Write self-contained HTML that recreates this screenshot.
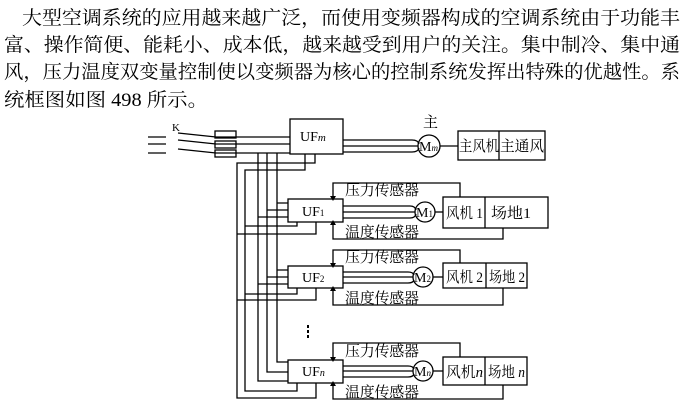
<!DOCTYPE html>
<html><head><meta charset="utf-8"><style>
html,body{margin:0;padding:0;background:#fff;}
svg{display:block;}
text{font-family:"Liberation Serif","Noto Serif CJK SC","Noto Sans CJK SC",serif;fill:#000;}
</style></head><body>
<svg width="686" height="417" viewBox="0 0 686 417" xmlns="http://www.w3.org/2000/svg">
<g font-size="19">
<text x="22" y="24" textLength="658" lengthAdjust="spacingAndGlyphs">大型空调系统的应用越来越广泛，而使用变频器构成的空调系统由于功能丰</text>
<text x="4" y="51" textLength="676" lengthAdjust="spacingAndGlyphs">富、操作简便、能耗小、成本低，越来越受到用户的关注。集中制冷、集中通</text>
<text x="4" y="78" textLength="676" lengthAdjust="spacingAndGlyphs">风，压力温度双变量控制使以变频器为核心的控制系统发挥出特殊的优越性。系</text>
<text x="4" y="106" textLength="204" lengthAdjust="spacingAndGlyphs">统框图如图 498 所示。</text>
</g>
<g stroke="#000" stroke-width="1.3" fill="none">
<path d="M148 137H166 M178 133L216 137H290 M148 144H166 M178 140L216 144H290 M148 153H166 M178 149L216 153H290"/>
<rect x="215" y="131" width="21" height="7"/><rect x="215" y="141" width="21" height="7"/><rect x="215" y="150" width="21" height="7"/>
<rect x="290" y="119" width="53" height="35"/>
<path d="M343 140H412Q418 140 419 144 M343 146H418 M343 152H412Q418 152 419 148"/>
<circle cx="429" cy="146" r="11"/>
<path d="M440 146H458"/>
<rect x="458" y="131" width="87" height="29"/><path d="M499 131V160"/>
<path d="M258 153V381H288 M267 153V372H288 M277 153V362H288"/>
<path d="M315 154V163H237V398H316V383"/>
<path d="M305 154V170H245V391H297V383"/>
<path d="M277 203H288 M267 210H288 M258 217H288 M245 226H297V222 M237 234H316V222"/>
<path d="M277 270H288 M267 277H288 M258 284H288 M245 294H297V288 M237 300H316V288"/>
<rect x="288" y="199" width="55" height="23"/>
<path d="M343 206H410Q415 206 416 210 M343 212H415 M343 218H410Q415 218 416 214"/>
<circle cx="425" cy="212" r="10"/>
<path d="M435 212H443"/>
<rect x="443" y="197" width="105" height="31"/><path d="M485 197V228"/>
<path d="M333 199V183H460V197 M333 222V239H503V228"/>
<rect x="288" y="266" width="55" height="22"/>
<path d="M343 272H408Q413 272 414 275 M343 277H413 M343 283H408Q413 283 414 280"/>
<circle cx="423" cy="277" r="10"/>
<path d="M433 277H443"/>
<rect x="443" y="263" width="84" height="25"/><path d="M486 263V288"/>
<path d="M333 266V250H460V263 M333 288V305H503V288"/>
<rect x="288" y="360" width="55" height="23"/>
<path d="M343 366H408Q413 366 414 369 M343 371H413 M343 377H408Q413 377 414 374"/>
<circle cx="423" cy="371" r="10"/>
<path d="M433 371H443"/>
<rect x="443" y="357" width="84" height="28"/><path d="M485 357V385"/>
<path d="M333 360V343H460V357 M333 383V399H503V385"/>
</g>
<g fill="#000">
<path d="M330 196L333 201L336 196Z M330 225L333 220L336 225Z M330 263L333 268L336 263Z M330 291L333 286L336 291Z M330 357L333 362L336 357Z M330 386L333 381L336 386Z"/>
<rect x="307" y="325" width="2" height="3"/><rect x="307" y="330" width="2" height="3"/><rect x="307" y="335" width="2" height="3"/>
</g>
<g font-size="15">
<text x="300" y="141" font-size="14">UF<tspan font-style="italic" font-size="11">m</tspan></text>
<text x="423" y="127">主</text>
<text x="419" y="151" font-size="14">M<tspan font-size="9" font-style="italic">m</tspan></text>
<text x="459" y="151" textLength="40" lengthAdjust="spacingAndGlyphs">主风机</text>
<text x="500" y="151" textLength="44" lengthAdjust="spacingAndGlyphs">主通风</text>
<text x="302" y="216" font-size="14">UF<tspan font-size="9">1</tspan></text>
<text x="416" y="217" font-size="14">M<tspan font-size="9">1</tspan></text>
<text x="446" y="218" textLength="37" lengthAdjust="spacingAndGlyphs">风机 1</text>
<text x="491" y="218" textLength="40" lengthAdjust="spacingAndGlyphs">场地1</text>
<text x="345" y="195" textLength="74">压力传感器</text>
<text x="345" y="237" textLength="74">温度传感器</text>
<text x="302" y="282" font-size="14">UF<tspan font-size="9">2</tspan></text>
<text x="414" y="282" font-size="14">M<tspan font-size="9">2</tspan></text>
<text x="446" y="282" textLength="37" lengthAdjust="spacingAndGlyphs">风机 2</text>
<text x="489" y="282" textLength="36" lengthAdjust="spacingAndGlyphs">场地 2</text>
<text x="345" y="262" textLength="74">压力传感器</text>
<text x="345" y="303" textLength="74">温度传感器</text>
<text x="302" y="376" font-size="14">UF<tspan font-size="10" font-style="italic">n</tspan></text>
<text x="414" y="376" font-size="14">M<tspan font-size="9" font-style="italic">n</tspan></text>
<text x="446" y="377" textLength="37" lengthAdjust="spacingAndGlyphs">风机<tspan font-style="italic">n</tspan></text>
<text x="488" y="377" textLength="37" lengthAdjust="spacingAndGlyphs">场地 <tspan font-style="italic">n</tspan></text>
<text x="345" y="356" textLength="74">压力传感器</text>
<text x="345" y="397" textLength="74">温度传感器</text>
<text x="172" y="131" font-size="11">K</text>
</g>
</svg>
</body></html>
